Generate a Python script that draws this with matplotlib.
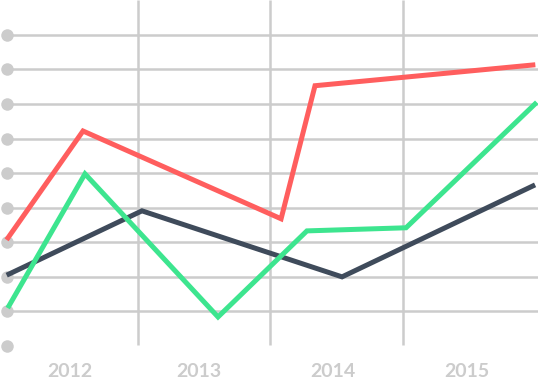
import matplotlib.pyplot as plt

# year labels along the bottom
years = ['2012', '2013', '2014', '2015']
year_pos = [0.487, 1.46, 2.47, 3.48]

# series (x in column units, y in grid units)
dark_x = [0.026, 1.03, 2.54, 3.98]
dark_y = [2.08, 3.91, 2.00, 4.63]

red_x = [0.019, 0.585, 2.08, 2.336, 3.98]
red_y = [3.13, 6.22, 3.68, 7.53, 8.13]

green_x = [0.026, 0.60, 1.604, 2.275, 3.023, 3.996]
green_y = [1.16, 4.98, 0.84, 3.33, 3.42, 7.00]

grid_levels = list(range(0, 10))
col_lines = [1, 2, 3]

GRID = '#cccccc'

fig = plt.figure(figsize=(5.38, 3.80), dpi=100)
ax = fig.add_axes([0, 0, 1, 1])
ax.set_xlim(-0.0415, 4.019)
ax.set_ylim(-0.984, 10.01)
ax.axis('off')

# grid
ax.hlines(grid_levels[1:], 0.011, 4.019, color=GRID, lw=1.8, zorder=1)
ax.vlines(col_lines, 0.03, 10.01, color=GRID, lw=1.8, zorder=1)
ax.plot([0.011] * len(grid_levels), grid_levels, 'o', color=GRID,
        ms=9, mec='none', zorder=2)

# series
ax.plot(dark_x, dark_y, color='#3f4b5b', lw=3.6, zorder=3, solid_joinstyle='miter')
ax.plot(red_x, red_y, color='#ff5e5e', lw=3.6, zorder=3, solid_joinstyle='miter')
ax.plot(green_x, green_y, color='#3de58f', lw=3.6, zorder=4, solid_joinstyle='miter')

for label, x in zip(years, year_pos):
    ax.text(x, -0.74, label, ha='center', va='center', fontsize=14,
            fontweight='bold', color=GRID, family='Lato')

plt.savefig('out.png', dpi=100)
